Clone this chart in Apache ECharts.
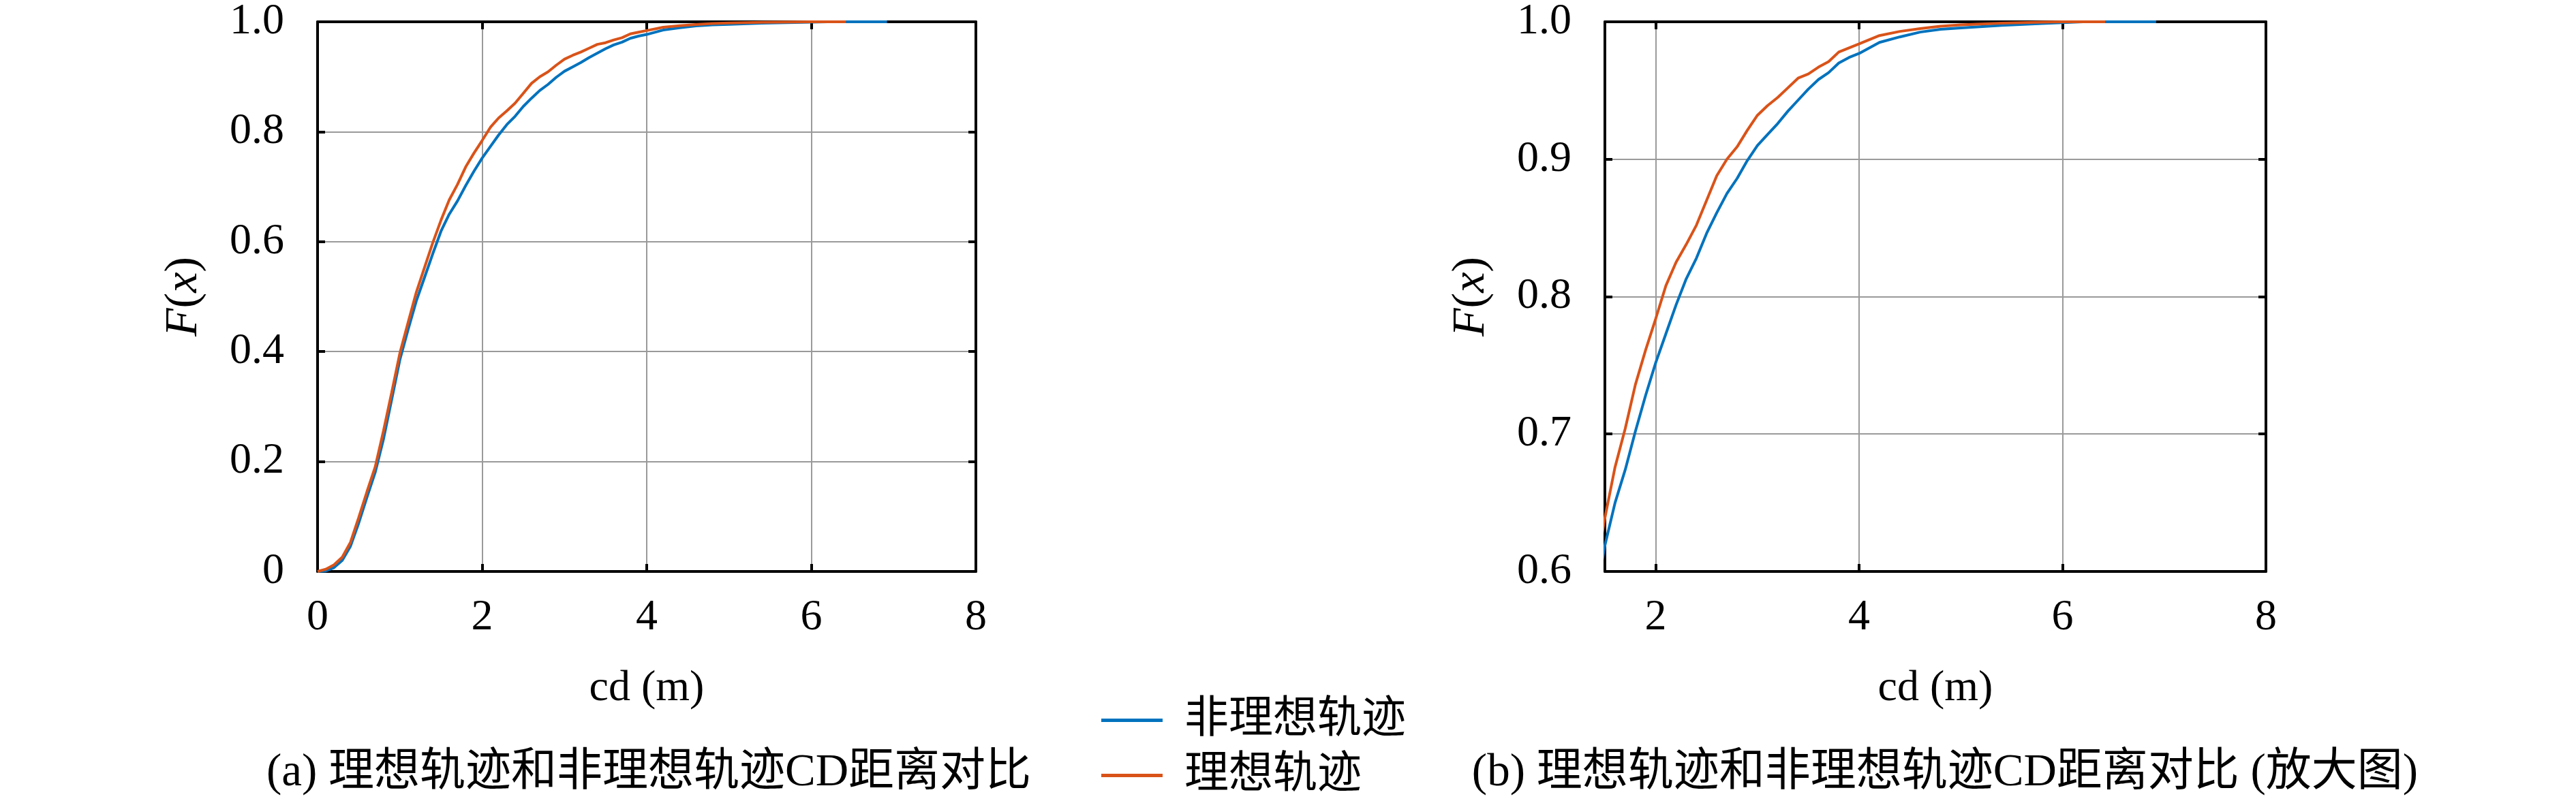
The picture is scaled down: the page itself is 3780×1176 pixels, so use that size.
<!DOCTYPE html>
<html>
<head>
<meta charset="utf-8">
<script src="https://cdn.jsdelivr.net/npm/echarts@6.0.0/dist/echarts.min.js"></script>
<style>
  html, body { margin: 0; padding: 0; background: #fff; }
  #chart { width: 3780px; height: 1176px; }
</style>
</head>
<body>
<div id="chart"></div>
<script>
const cdIdeal = [0, 0.1, 0.2, 0.3, 0.4, 0.5, 0.6, 0.7, 0.8, 0.9, 1.0, 1.1, 1.2, 1.3, 1.4, 1.5,
  1.6, 1.7, 1.8, 1.9, 2.0, 2.1, 2.2, 2.3, 2.4, 2.5, 2.6, 2.7, 2.8, 2.9, 3.0, 3.1, 3.2, 3.3, 3.4,
  3.5, 3.6, 3.7, 3.8, 3.9, 4.0, 4.2, 4.4, 4.6, 4.8, 5.0, 5.4, 5.8, 6.0, 6.42]
const fIdeal = [0, 0.004, 0.012, 0.026, 0.053, 0.098, 0.145, 0.190, 0.255, 0.325, 0.397, 0.453,
  0.508, 0.553, 0.598, 0.639, 0.676, 0.704, 0.736, 0.761, 0.784, 0.808, 0.825, 0.838, 0.852,
  0.870, 0.888, 0.900, 0.909, 0.921, 0.932, 0.939, 0.945, 0.952, 0.959, 0.962, 0.967, 0.971,
  0.978, 0.981, 0.984, 0.990, 0.993, 0.995, 0.9968, 0.9978, 0.9990, 0.9998, 1.0, 1.0]

const cdNonIdeal = [0, 0.1, 0.2, 0.3, 0.4, 0.5, 0.6, 0.7, 0.8, 0.9, 1.0, 1.1, 1.2, 1.3, 1.4, 1.5,
  1.6, 1.7, 1.8, 1.9, 2.0, 2.1, 2.2, 2.3, 2.4, 2.5, 2.6, 2.7, 2.8, 2.9, 3.0, 3.1, 3.2, 3.3, 3.4,
  3.5, 3.6, 3.7, 3.8, 3.9, 4.0, 4.2, 4.4, 4.6, 4.8, 5.0, 5.4, 5.8, 6.2, 6.92]
const fNonIdeal = [0, 0.001, 0.007, 0.020, 0.046, 0.088, 0.135, 0.180, 0.240, 0.312, 0.385, 0.440,
  0.492, 0.535, 0.578, 0.619, 0.650, 0.674, 0.702, 0.728, 0.752, 0.773, 0.794, 0.813, 0.828,
  0.846, 0.861, 0.875, 0.886, 0.899, 0.910, 0.918, 0.926, 0.935, 0.943, 0.951, 0.958, 0.963,
  0.970, 0.974, 0.977, 0.985, 0.989, 0.9925, 0.9945, 0.9955, 0.9974, 0.9988, 1.0, 1.0]

const seriesNames = ['非理想轨迹', '理想轨迹']
const seriesColors = ['#0072BD', '#D95319']
const zoomTicks = [2, 4, 6, 8]
const captions = ['(a) 理想轨迹和非理想轨迹CD距离对比', '(b) 理想轨迹和非理想轨迹CD距离对比 (放大图)']

const serif = "'Liberation Serif', 'Noto Sans CJK SC', serif"
const FS = 64

function pairs(xs, ys) {
  return xs.map((x, i) => [x, ys[i]])
}

function boxAxis(extra) {
  return Object.assign({
    type: 'value',
    axisLine: { show: true, onZero: false, lineStyle: { color: '#000', width: 4 } },
    axisTick: { show: true, inside: true, length: 11, lineStyle: { color: '#000', width: 4 } },
    axisLabel: { show: false },
    splitLine: { show: false },
  }, extra)
}

const labelStyle = { color: '#000', fontFamily: serif, fontSize: FS }
const gridLine = { show: true, lineStyle: { color: '#9a9a9a', width: 2 } }
const fxName = {
  name: '{i|F}{n|(}{i|x}{n|)}',
  nameLocation: 'middle',
  nameGap: 162,
  nameTextStyle: {
    color: '#000', fontFamily: serif, fontSize: FS,
    rich: {
      i: { fontStyle: 'italic', fontFamily: serif, fontSize: 68, color: '#000' },
      n: { fontFamily: serif, fontSize: 68, color: '#000' },
    },
  },
}
const cdName = {
  name: 'cd (m)',
  nameLocation: 'middle',
  nameGap: 140,
  nameTextStyle: { color: '#000', fontFamily: serif, fontSize: FS },
}

const chart = echarts.init(document.getElementById('chart'))

const option = {
  backgroundColor: '#fff',
  animation: false,
  title: captions.map((t, i) => ({
    text: t,
    left: i === 0 ? 947 : 2849,
    top: 1097,
    textAlign: 'center',
    textStyle: { color: '#000', fontFamily: serif, fontSize: 67, fontWeight: 'normal' },
  })),
  legend: {
    data: seriesNames,
    orient: 'vertical',
    left: 1616,
    top: 1025,
    padding: 0,
    itemGap: 16,
    itemWidth: 90,
    itemHeight: 5,
    icon: 'rect',
    textStyle: { color: '#000', fontFamily: serif, fontSize: 65, padding: [0, 0, 0, 27] },
  },
  grid: [
    { left: 466, top: 31, width: 966, height: 808 },
    { left: 2355, top: 31, width: 970, height: 808 },
  ],
  xAxis: [
    boxAxis(Object.assign({
      gridIndex: 0, position: 'bottom', min: 0, max: 8, interval: 2,
      axisLabel: Object.assign({ show: true, margin: 36 }, labelStyle),
      splitLine: gridLine,
    }, cdName)),
    boxAxis({ gridIndex: 0, position: 'top', min: 0, max: 8, interval: 2 }),
    boxAxis(Object.assign({
      gridIndex: 1, position: 'bottom', min: 1.5, max: 8,
      axisTick: { show: true, inside: true, length: 11, customValues: zoomTicks, lineStyle: { color: '#000', width: 4 } },
      axisLabel: Object.assign({ show: true, margin: 36, customValues: zoomTicks }, labelStyle),
      splitLine: gridLine,
    }, cdName)),
    boxAxis({
      gridIndex: 1, position: 'top', min: 1.5, max: 8,
      axisTick: { show: true, inside: true, length: 11, customValues: zoomTicks, lineStyle: { color: '#000', width: 4 } },
    }),
  ],
  yAxis: [
    boxAxis(Object.assign({
      gridIndex: 0, position: 'left', min: 0, max: 1, interval: 0.2,
      axisLabel: Object.assign({
        show: true, margin: 49,
        formatter: v => (v === 0 ? '0' : v.toFixed(1)),
      }, labelStyle),
      splitLine: gridLine,
    }, fxName)),
    boxAxis({ gridIndex: 0, position: 'right', min: 0, max: 1, interval: 0.2 }),
    boxAxis(Object.assign({
      gridIndex: 1, position: 'left', min: 0.6, max: 1, interval: 0.1,
      axisLabel: Object.assign({ show: true, margin: 49, formatter: v => v.toFixed(1) }, labelStyle),
      splitLine: gridLine,
    }, fxName)),
    boxAxis({ gridIndex: 1, position: 'right', min: 0.6, max: 1, interval: 0.1 }),
  ],
  series: [],
}

const curves = [pairs(cdNonIdeal, fNonIdeal), pairs(cdIdeal, fIdeal)]
;[0, 2].forEach(axisIdx => {
  curves.forEach((data, k) => {
    option.series.push({
      type: 'line',
      name: seriesNames[k],
      xAxisIndex: axisIdx,
      yAxisIndex: axisIdx,
      data: data,
      showSymbol: false,
      symbol: 'none',
      clip: true,
      color: seriesColors[k],
      lineStyle: { color: seriesColors[k], width: 4 },
      z: 3,
    })
  })
})

chart.setOption(option)
</script>
</body>
</html>
